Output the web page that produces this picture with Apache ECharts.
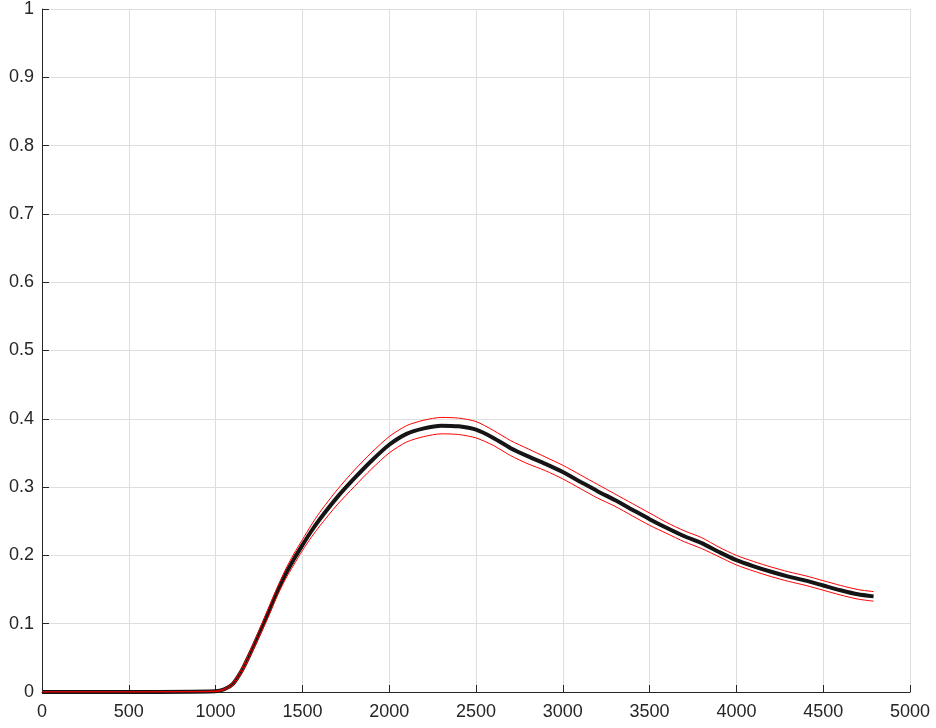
<!DOCTYPE html>
<html>
<head>
<meta charset="utf-8">
<script src="https://cdn.jsdelivr.net/npm/echarts@6/dist/echarts.min.js"></script>
<style>
html,body{margin:0;padding:0;background:#fff;}
#c{width:936px;height:728px;}
</style>
</head>
<body>
<div id="c"></div>
<script>
var xs    = [0,500,1000,1050,1100,1150,1200,1250,1300,1350,1400,1450,1500,1550,1600,1700,1800,1900,2000,2100,2200,2300,2400,2500,2600,2700,2800,2900,3000,3100,3200,3300,3400,3500,3600,3700,3800,3900,4000,4100,4200,4300,4400,4500,4600,4700,4790];
var meanY = [0,0,0.001,0.004,0.012,0.031,0.057,0.085,0.114,0.144,0.171,0.194,0.215,0.235,0.253,0.285,0.313,0.339,0.362,0.378,0.386,0.390,0.389,0.384,0.372,0.357,0.345,0.334,0.322,0.308,0.294,0.281,0.267,0.253,0.240,0.228,0.218,0.205,0.193,0.184,0.176,0.169,0.163,0.156,0.149,0.143,0.140];
var upperY = [0,0,0.0015,0.005,0.014,0.034,0.061,0.090,0.120,0.150,0.178,0.202,0.223,0.244,0.263,0.296,0.325,0.351,0.374,0.390,0.398,0.402,0.401,0.396,0.383,0.368,0.356,0.344,0.332,0.318,0.304,0.290,0.276,0.262,0.248,0.236,0.226,0.212,0.200,0.191,0.183,0.176,0.170,0.163,0.156,0.150,0.147];
var lowerY = [0,0,0.0005,0.003,0.010,0.028,0.053,0.080,0.108,0.138,0.164,0.186,0.207,0.226,0.243,0.274,0.301,0.327,0.350,0.366,0.374,0.378,0.377,0.372,0.361,0.346,0.334,0.324,0.312,0.298,0.284,0.272,0.258,0.244,0.232,0.220,0.210,0.198,0.186,0.177,0.169,0.162,0.156,0.149,0.142,0.136,0.133];

function pairs(ys){ return xs.map(function(x,i){ return [x, ys[i]]; }); }

var chart = echarts.init(document.getElementById('c'), null, {renderer:'canvas'});
var axisText = {color:'#262626', fontSize:18, fontFamily:'Liberation Sans, Arial, Helvetica, sans-serif'};
chart.setOption({
  animation:false,
  backgroundColor:'#ffffff',
  grid:{left:42, right:26, top:7, bottom:36, containLabel:false},
  xAxis:{
    type:'value', min:0, max:5000, interval:500,
    axisLine:{show:true, lineStyle:{color:'#262626', width:1}},
    axisTick:{show:true, inside:true, length:7, lineStyle:{color:'#262626'}},
    axisLabel:Object.assign({margin:11, formatter:function(v){return String(v);}}, axisText),
    splitLine:{show:true, lineStyle:{color:'#dedede', width:1}}
  },
  yAxis:{
    type:'value', min:0, max:1, interval:0.1,
    axisLine:{show:true, lineStyle:{color:'#262626', width:1}},
    axisTick:{show:true, inside:true, length:7, lineStyle:{color:'#262626'}},
    axisLabel:Object.assign({margin:8, formatter:function(v){return String(Math.round(v*10)/10);}}, axisText),
    splitLine:{show:true, lineStyle:{color:'#dedede', width:1}}
  },
  series:[
    {type:'line', data:pairs(meanY), showSymbol:false, smooth:0.25,
     lineStyle:{color:'#151515', width:4}, z:2},
    {type:'line', data:pairs(upperY), showSymbol:false, smooth:0.25,
     lineStyle:{color:'#ff0000', width:1}, z:3},
    {type:'line', data:pairs(lowerY), showSymbol:false, smooth:0.25,
     lineStyle:{color:'#ff0000', width:1}, z:3}
  ]
});
</script>
</body>
</html>
